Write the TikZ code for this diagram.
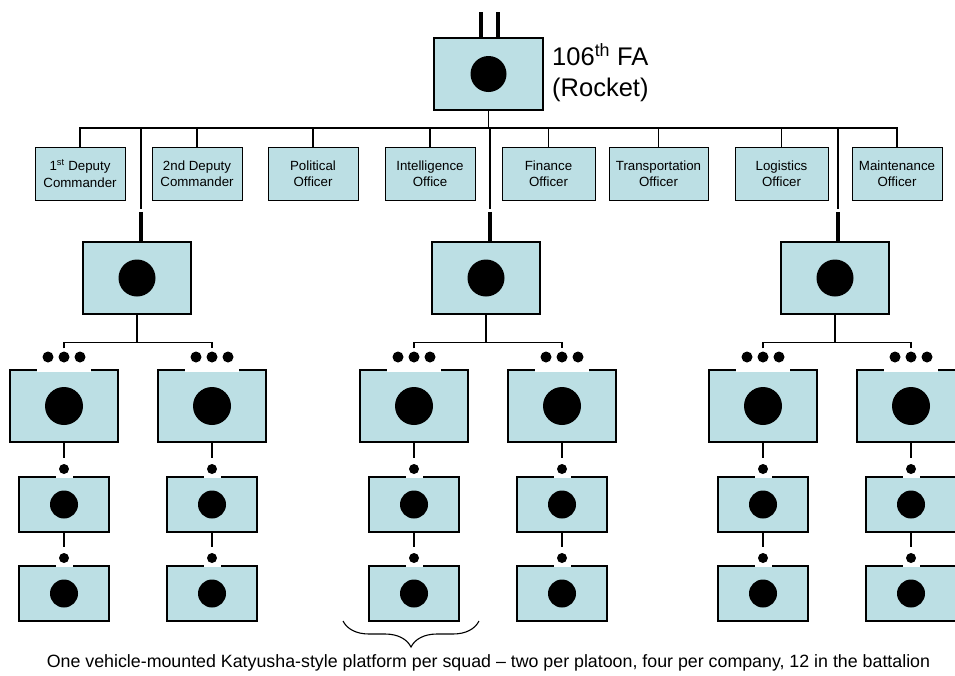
\documentclass[tikz,border=0pt]{standalone}
\usepackage{fontspec}
\setmainfont{Liberation Sans}
\usetikzlibrary{decorations.pathreplacing,calc}
\definecolor{boxblue}{RGB}{188,223,228}
\begin{document}
\begin{tikzpicture}[x=1pt,y=-1pt,
  unitbox/.style={draw=black,line width=1.4pt,fill=boxblue,inner sep=0pt,minimum width=108pt,minimum height=72pt},
  squadbox/.style={unitbox,minimum width=90pt,minimum height=55pt},
  staffbox/.style={draw=black,line width=1pt,fill=boxblue,inner sep=0pt,minimum height=53pt,align=center,font=\fontsize{13.3}{16.5}\selectfont},
  whitecover/.style={fill=white,draw=none,inner sep=0pt},
  conn/.style={draw=black,line width=1.3pt},
  heavy/.style={draw=black,line width=4pt},
]
\useasboundingbox (0,0) rectangle (955,675);

% headquarters
\node[unitbox,minimum width=109pt] (hq) at (488.5,74) {};
\fill (hq) circle (18pt);
\node[anchor=west,align=left,inner sep=0pt,font=\fontsize{25.5}{31}\selectfont] (hqlabel) at (552,73) {106\textsuperscript{th} FA\\(Rocket)};
\coordinate (hb1) at (481,12);
\coordinate (hb2) at (498,12);
\draw[heavy] (hb1) -- (hb1 |- hq.north);
\draw[heavy] (hb2) -- (hb2 |- hq.north);

% staff
\foreach \n/\x/\w/\t in {
  s1/80/90/{1\textsuperscript{st} Deputy\\Commander},
  s2/197/90/{2nd Deputy\\Commander},
  s3/313/90/{Political\\Officer},
  s4/430/90/{Intelligence\\Office},
  s5/548.5/93/{Finance\\Officer},
  s6/658.5/99/{Transportation\\Officer},
  s7/781.5/93/{Logistics\\Officer},
  s8/897/90/{Maintenance\\Officer}}
  {\node[staffbox,minimum width=\w pt] (\n) at (\x,173.5) {\t};}
\coordinate (bus) at (488.5,128);
\draw[conn] (hq.south) -- (bus);
\draw[conn] (s1.north) |- (bus) -| (s8.north);
\foreach \n in {s2,s3,s4,s5,s6,s7}
  \draw[conn] (\n.north) -- (\n.north |- bus);

% batteries
\foreach \n/\x/\dx in {b1/137/4, b2/486/4, b3/835/3} {
  \node[unitbox] (\n) at (\x,278) {};
  \fill (\n) circle (18.5pt);
  \coordinate (\n t) at ($(\n.north)+(\dx,0)$);
  \draw[conn] (\n t |- bus) -- ($(\n t)+(0,-32)$);
  \draw[heavy] ($(\n t)+(0,-29)$) -- (\n t);
}

% platoons and squads
\foreach \i/\x in {1/64, 2/212, 3/414, 4/562, 5/763, 6/911} {
  \node[unitbox] (p\i) at (\x,406) {};
  \fill (p\i) circle (19pt);
  \node[whitecover,minimum width=54pt,minimum height=23pt] (e\i) at (\x,360) {};
  \foreach \dx in {-16,0,16} \fill (\x+\dx,357) circle (5.5pt);
  % first squad
  \node[squadbox] (qa\i) at (\x,504.5) {};
  \fill (qa\i) circle (14pt);
  \node[whitecover,minimum width=17pt,minimum height=14pt] (da\i) at (\x,471) {};
  \fill (\x,469) circle (5pt);
  \draw[conn,shorten >=6pt] (p\i.south) -- (da\i.north);
  % second squad
  \node[squadbox] (qb\i) at (\x,593.5) {};
  \fill (qb\i) circle (14pt);
  \node[whitecover,minimum width=17pt,minimum height=14pt] (db\i) at (\x,560) {};
  \fill (\x,558) circle (5pt);
  \draw[conn,shorten >=6pt] (qa\i.south) -- (db\i.north);
}

\foreach \b/\l/\r in {1/1/2, 2/3/4, 3/5/6} {
  \coordinate (k\b) at ($(b\b.south)+(0,28)$);
  \draw[conn] (b\b.south) -- (k\b);
  \draw[conn] (e\l.north) |- (k\b) -| (e\r.north);
}

% brace and caption
\coordinate (brL) at (343,621);
\coordinate (brR) at (479,621);
\draw[decorate,decoration={brace,amplitude=26pt,aspect=0.5},line width=1.1pt] (brR) -- (brL);
\node[font=\fontsize{17.8}{20}\selectfont,inner sep=0pt] (cap) at (488.5,663) {One vehicle-mounted Katyusha-style platform per squad -- two per platoon, four per company, 12 in the battalion};
\end{tikzpicture}
\end{document}
